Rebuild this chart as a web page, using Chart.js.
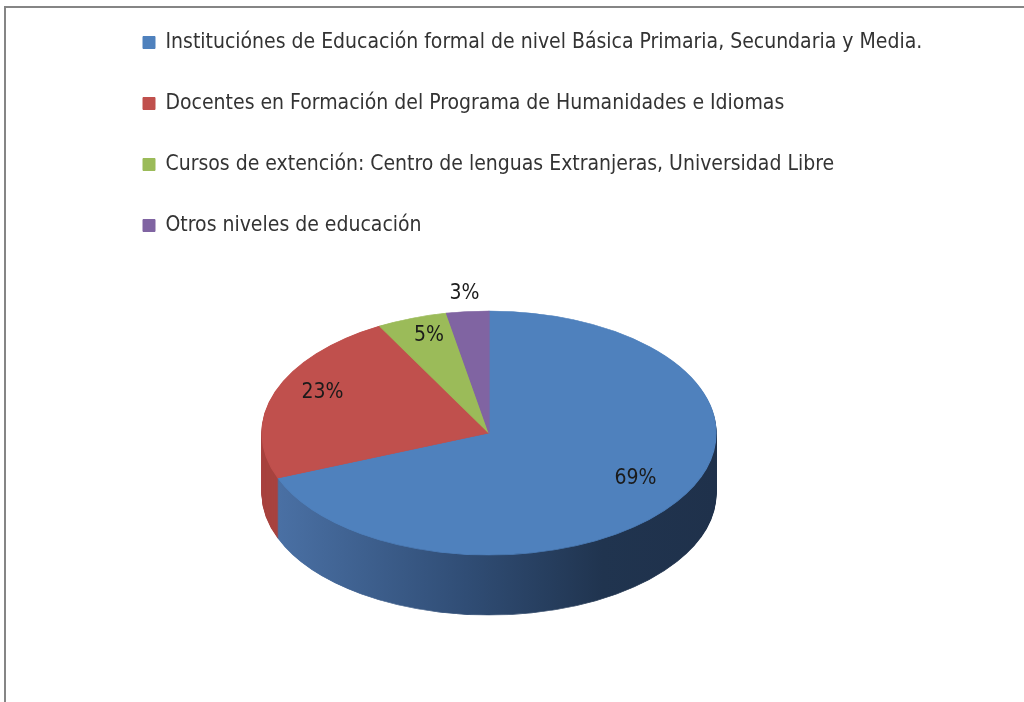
<!DOCTYPE html>
<html>
<head>
<meta charset="utf-8">
<script src="https://cdn.jsdelivr.net/npm/chart.js@4.4.1/dist/chart.umd.min.js"></script>
<style>
    html, body { margin: 0; padding: 0; background: #fff; overflow: hidden; }
    #frame { position: absolute; left: 4px; top: 6px; width: 1100px; height: 800px;
             border-top: 2px solid #858585; border-left: 2px solid #858585; }
    #wrap { position: absolute; left: 0; top: 0; width: 1024px; height: 702px; }
</style>
</head>
<body>
<div id="frame"></div>
<div id="wrap"><canvas id="chart1"></canvas></div>
<script>
// values (percent)
var categories = [
    'Instituciónes de Educación formal de nivel Básica Primaria, Secundaria y Media.',
    'Docentes en Formación del Programa de Humanidades e Idiomas',
    'Cursos de extención: Centro de lenguas Extranjeras, Universidad Libre',
    'Otros niveles de educación'
];
var shares = [69, 23, 5, 3];

var topColors = ['#4f81bd', '#c0504d', '#9bbb59', '#8064a2'];
var sideColors = ['#2f4b72', '#a8433f', '#76903f', '#5f4a7c'];
var FONT = "'Liberation Sans Narrow', 'DejaVu Sans Condensed', sans-serif";

// look of the tilted pie
var PIE_RX = 227, PIE_RY = 122, PIE_DEPTH = 60;

function pieTransform(ctx, arc) {
    var r = arc.outerRadius;
    ctx.translate(arc.x, arc.y);
    ctx.scale(PIE_RX / r, PIE_RY / r);
    ctx.translate(-arc.x, -arc.y);
}

var pie3d = {
    id: 'pie3d',
    afterLayout: function(chart) {
        // let the long first legend line run past the pie's box
        if (chart.legend) {
            chart.legend.right = chart.width;
            chart.legend.width = chart.width - chart.legend.left;
        }
    },
    beforeDatasetsDraw: function(chart) {
        var ctx = chart.ctx;
        var arcs = chart.getDatasetMeta(0).data;
        if (!arcs.length) return;
        var a0 = arcs[0];
        for (var d = PIE_DEPTH; d >= 1; d--) {
            ctx.save();
            ctx.translate(0, d);
            pieTransform(ctx, a0);
            var grad = ctx.createLinearGradient(a0.x - a0.outerRadius, 0, a0.x + a0.outerRadius, 0);
            grad.addColorStop(0, '#4c73a8');
            grad.addColorStop(0.45, '#304d75');
            grad.addColorStop(0.75, '#20344f');
            grad.addColorStop(1, '#1f314b');
            arcs.forEach(function(arc, i) {
                var saved = arc.options;
                var fill = i === 0 ? grad : sideColors[i];
                arc.options = Object.assign({}, saved, {backgroundColor: fill, borderColor: fill});
                arc.draw(ctx);
                arc.options = saved;
            });
            ctx.restore();
        }
    },
    beforeDatasetDraw: function(chart) {
        var arcs = chart.getDatasetMeta(0).data;
        chart.ctx.save();
        pieTransform(chart.ctx, arcs[0]);
    },
    afterDatasetDraw: function(chart) {
        chart.ctx.restore();
    },
    afterDatasetsDraw: function(chart) {
        var ctx = chart.ctx;
        var arcs = chart.getDatasetMeta(0).data;
        var values = chart.data.datasets[0].data;
        var total = values.reduce(function(s, v) { return s + v; }, 0);
        ctx.save();
        ctx.font = '21px ' + FONT;
        ctx.fillStyle = '#1a1a1a';
        ctx.textAlign = 'center';
        ctx.textBaseline = 'middle';
        arcs.forEach(function(arc, i) {
            var pct = values[i] / total * 100;
            var mid = (arc.startAngle + arc.endAngle) / 2;
            var outside = pct < 4;
            var f = outside ? 1.15 : 0.78;
            var x = arc.x + Math.cos(mid) * PIE_RX * f;
            var y = arc.y + Math.sin(mid) * PIE_RY * f - (outside ? 0 : 8);
            ctx.fillText(Math.round(pct) + '%', x, y);
        });
        ctx.restore();
    }
};

var ctx = document.getElementById('chart1').getContext('2d');
var chartObj = new Chart(ctx, {
    type: 'pie',
    data: {
        labels: categories,
        datasets: [{
            data: shares,
            backgroundColor: topColors,
            borderColor: topColors,
            borderWidth: 1,
            clip: false
        }]
    },
    options: {
        responsive: true,
        maintainAspectRatio: false,
        animation: false,
        layout: {
            padding: {top: -8, left: 103, right: 149, bottom: 82}
        },
        plugins: {
            tooltip: {enabled: false},
            legend: {
                display: true,
                position: 'top',
                align: 'start',
                labels: {
                    boxWidth: 12,
                    boxHeight: 12,
                    padding: 40,
                    color: '#333333',
                    font: {size: 21, family: FONT}
                }
            }
        }
    },
    plugins: [pie3d]
});
</script>
</body>
</html>
